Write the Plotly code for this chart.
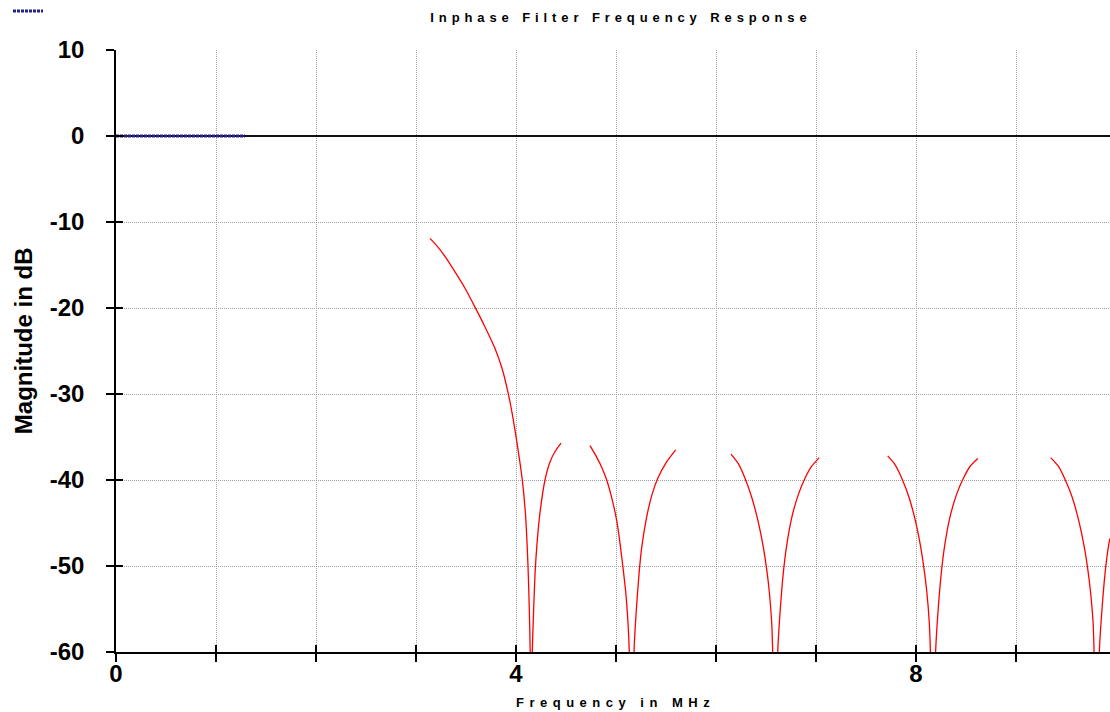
import plotly.graph_objects as go

# ---- data ----
pass_x = [0.0, 0.2, 0.4, 0.6, 0.8, 1.0, 1.2, 1.29]
pass_y = [0.0, 0.0, 0.0, 0.0, 0.0, 0.0, 0.0, 0.0]

stop_x = [3.14, 3.207, 3.29, 3.39, 3.49, 3.59, 3.69, 3.79, 3.86, 3.92, 3.97, 4.017, 4.063, 4.095, 4.12, 4.133, 4.142,
          4.152,
          4.163, 4.175, 4.192, 4.21, 4.24, 4.29, 4.34, 4.395, 4.45,
          None,
          4.74, 4.8, 4.86, 4.907, 4.96, 5.01, 5.045, 5.072, 5.097, 5.12, 5.133,
          5.157,
          5.18, 5.201, 5.231, 5.26, 5.305, 5.36, 5.418, 5.5, 5.597,
          None,
          6.15, 6.223, 6.29, 6.357, 6.423, 6.473, 6.507, 6.533, 6.557, 6.567,
          6.592,
          6.617, 6.64, 6.673, 6.707, 6.757, 6.823, 6.89, 6.957, 7.033,
          None,
          7.717, 7.79, 7.862, 7.93, 7.997, 8.047, 8.081, 8.108, 8.133, 8.144,
          8.17,
          8.196, 8.219, 8.253, 8.287, 8.338, 8.405, 8.474, 8.542, 8.617,
          None,
          9.347, 9.423, 9.493, 9.562, 9.631, 9.683, 9.718, 9.745, 9.771, 9.781,
          9.807,
          9.833, 9.857, 9.891, 9.926, 9.94]
stop_y = [-11.9, -12.75, -14.0, -15.8, -17.7, -19.9, -22.2, -24.7, -27.0, -29.8, -32.8, -36.2, -40.0, -44.0, -50.0, -55.0, -60.0,
          -75.0,
          -60.0, -55.5, -50.5, -47.4, -43.8, -40.0, -37.9, -36.6, -35.7,
          None,
          -36.0, -37.2, -38.6, -40.0, -42.2, -44.9, -47.8, -50.4, -53.0, -56.6, -60.0,
          -75.0,
          -60.0, -55.5, -50.8, -47.6, -44.4, -41.7, -39.8, -38.0, -36.5,
          None,
          -37.0, -38.1, -39.8, -42.0, -44.9, -47.8, -50.4, -53.0, -56.6, -60.0,
          -75.0,
          -60.0, -55.5, -50.8, -47.6, -44.4, -41.7, -39.8, -38.4, -37.4,
          None,
          -37.2, -38.2, -39.9, -42.0, -44.9, -47.8, -50.4, -53.0, -56.6, -60.0,
          -75.0,
          -60.0, -55.5, -50.8, -47.6, -44.4, -41.7, -39.8, -38.4, -37.5,
          None,
          -37.4, -38.4, -40.0, -42.0, -44.9, -47.8, -50.4, -53.0, -56.6, -60.0,
          -75.0,
          -60.0, -55.5, -50.8, -47.6, -46.8]

x_tickvals = [0, 1, 2, 3, 4, 5, 6, 7, 8, 9]
x_ticktext = ["0", "", "", "", "4", "", "", "", "8", ""]
y_tickvals = [10, 0, -10, -20, -30, -40, -50, -60]
y_ticktext = ["10", "0", "-10", "-20", "-30", "-40", "-50", "-60"]

TITLE = "Inphase Filter Frequency Response"
X_TITLE = "Frequency in MHz"
Y_TITLE = "Magnitude in dB"

X_RANGE = [0, 9.94]
Y_RANGE = [-60, 10]

FONT = "Liberation Sans, Arial, sans-serif"
GRID = dict(showgrid=True, gridcolor="#a0a0a0", griddash="1px,1px", gridwidth=1)

fig = go.Figure()
fig.add_trace(go.Scatter(x=stop_x, y=stop_y, mode="lines", connectgaps=False,
                         line=dict(color="#ff0000", width=1.3, shape="spline", smoothing=0.6),
                         showlegend=False, xaxis="x", yaxis="y"))
fig.add_trace(go.Scatter(x=pass_x, y=pass_y, mode="lines", name="",
                         line=dict(color="#22228c", width=3, dash="3px,1px"),
                         showlegend=True, xaxis="x2", yaxis="y2"))

tickfont = dict(family=FONT, size=24, color="black", weight="bold")

fig.update_layout(
    width=1110, height=712,
    margin=dict(l=116, r=0, t=50, b=60, autoexpand=False),
    paper_bgcolor="white", plot_bgcolor="white",
    font=dict(family=FONT, color="black"),
    title=dict(text="<span style='letter-spacing:4.9px'>" + TITLE + "</span>",
               x=0.508, xref="paper", xanchor="center", y=0.982, yref="container", yanchor="top",
               automargin=False,
               font=dict(family=FONT, size=13, color="black", weight="bold")),
    xaxis=dict(range=X_RANGE, tickmode="array", tickvals=x_tickvals, ticktext=x_ticktext,
               ticks="outside", ticklen=8, tickwidth=1.5, tickcolor="black",
               ticklabelstandoff=-9,
               showline=True, linecolor="black", linewidth=1.5,
               zeroline=False, automargin=False,
               tickfont=tickfont, **GRID),
    yaxis=dict(range=Y_RANGE, tickmode="array", tickvals=y_tickvals, ticktext=y_ticktext,
               ticks="outside", ticklen=8, tickwidth=1.5, tickcolor="black",
               ticklabelstandoff=17,
               showline=True, linecolor="black", linewidth=1.5,
               zeroline=True, zerolinecolor="#111111", zerolinewidth=1.6, automargin=False,
               tickfont=tickfont, **GRID),
    xaxis2=dict(range=X_RANGE, overlaying="x", anchor="y2", side="bottom",
                tickmode="array", tickvals=x_tickvals, ticks="inside", ticklen=7,
                tickwidth=1.5, tickcolor="black", showticklabels=False,
                showgrid=False, zeroline=False, showline=False, automargin=False),
    yaxis2=dict(range=Y_RANGE, overlaying="y", anchor="x2", side="left",
                tickmode="array", tickvals=y_tickvals, ticks="inside", ticklen=7,
                tickwidth=1.5, tickcolor="black", showticklabels=False,
                showgrid=False, zeroline=False, showline=False, automargin=False),
    legend=dict(xref="container", yref="container", x=0.0072, y=0.9846,
                xanchor="left", yanchor="middle", bgcolor="rgba(0,0,0,0)",
                borderwidth=0, itemwidth=30, font=dict(size=6),
                tracegroupgap=0),
    showlegend=True,
    annotations=[
        dict(text="<span style='letter-spacing:5.5px'>" + X_TITLE + "</span>",
             xref="paper", yref="paper", x=0.503, y=-0.0847, xanchor="center", yanchor="middle",
             showarrow=False, font=dict(family=FONT, size=13, color="black", weight="bold")),
        dict(text=Y_TITLE, textangle=-90,
             xref="paper", yref="paper", x=-0.0936, y=0.518, xanchor="center", yanchor="middle",
             showarrow=False, font=dict(family=FONT, size=24, color="black", weight="bold")),
    ],
)

fig.write_html("out.html", config={"displayModeBar": False},
               post_script="document.body.style.margin='0';")
